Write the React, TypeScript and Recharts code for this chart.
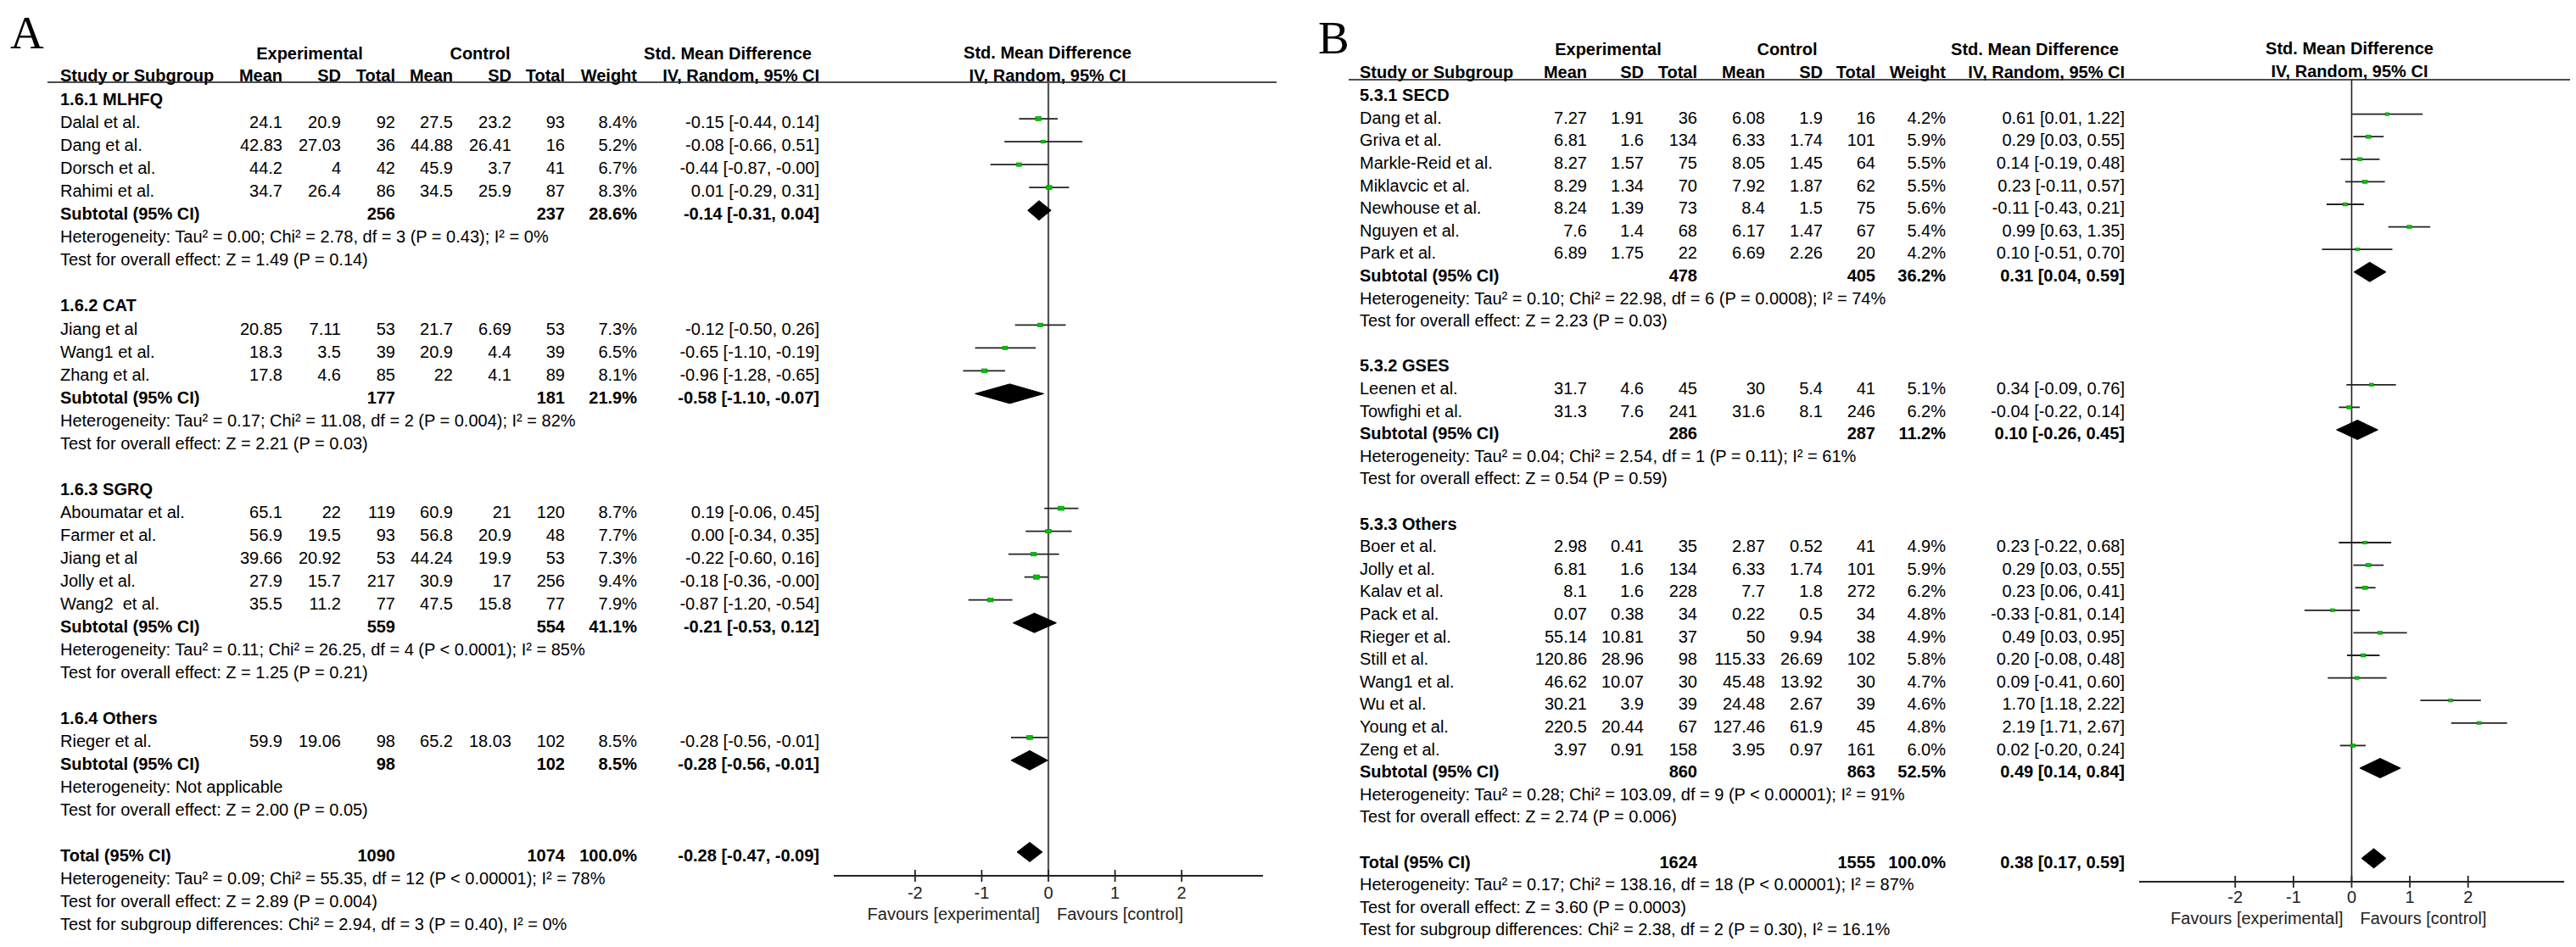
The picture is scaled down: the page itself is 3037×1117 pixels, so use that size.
import React from 'react';
import { ComposedChart, Scatter, ErrorBar, XAxis, YAxis, ReferenceLine } from 'recharts';

const SANS = "'Liberation Sans', Arial, Helvetica, sans-serif";
const SERIF = "'Liberation Serif', 'Times New Roman', serif";
const TICKS = [-2, -1, 0, 1, 2];

// ---------- Panel A ----------
const A_GROUPS = ['1.6.1 MLHFQ', '1.6.2 CAT', '1.6.3 SGRQ', '1.6.4 Others'];
const A_GROUP_SIZE = [4, 3, 5, 1];
const A_STUDIES = ['Dalal et al.', 'Dang et al.', 'Dorsch et al.', 'Rahimi et al.', 'Jiang et al', 'Wang1 et al.', 'Zhang et al.',
  'Aboumatar et al.', 'Farmer et al.', 'Jiang et al', 'Jolly et al.', 'Wang2  et al.', 'Rieger et al.'];
const A_EXP_MEAN = [24.1, 42.83, 44.2, 34.7, 20.85, 18.3, 17.8, 65.1, 56.9, 39.66, 27.9, 35.5, 59.9];
const A_EXP_SD = [20.9, 27.03, 4, 26.4, 7.11, 3.5, 4.6, 22, 19.5, 20.92, 15.7, 11.2, 19.06];
const A_EXP_N = [92, 36, 42, 86, 53, 39, 85, 119, 93, 53, 217, 77, 98];
const A_CTL_MEAN = [27.5, 44.88, 45.9, 34.5, 21.7, 20.9, 22, 60.9, 56.8, 44.24, 30.9, 47.5, 65.2];
const A_CTL_SD = [23.2, 26.41, 3.7, 25.9, 6.69, 4.4, 4.1, 21, 20.9, 19.9, 17, 15.8, 18.03];
const A_CTL_N = [93, 16, 41, 87, 53, 39, 89, 120, 48, 53, 256, 77, 102];
const A_WEIGHT = [8.4, 5.2, 6.7, 8.3, 7.3, 6.5, 8.1, 8.7, 7.7, 7.3, 9.4, 7.9, 8.5];
const A_SMD = [-0.15, -0.08, -0.44, 0.01, -0.12, -0.65, -0.96, 0.19, 0.0, -0.22, -0.18, -0.87, -0.28];
const A_LO = [-0.44, -0.66, -0.87, -0.29, -0.5, -1.1, -1.28, -0.06, -0.34, -0.6, -0.36, -1.2, -0.56];
const A_HI = [0.14, 0.51, -0.004, 0.31, 0.26, -0.19, -0.65, 0.45, 0.35, 0.16, -0.004, -0.54, -0.01];
const A_SUB_EXP_N = [256, 177, 559, 98];
const A_SUB_CTL_N = [237, 181, 554, 102];
const A_SUB_WEIGHT = [28.6, 21.9, 41.1, 8.5];
const A_SUB_SMD = [-0.14, -0.58, -0.21, -0.28];
const A_SUB_LO = [-0.31, -1.1, -0.53, -0.56];
const A_SUB_HI = [0.04, -0.07, 0.12, -0.01];
const A_HET = [
  'Heterogeneity: Tau² = 0.00; Chi² = 2.78, df = 3 (P = 0.43); I² = 0%',
  'Heterogeneity: Tau² = 0.17; Chi² = 11.08, df = 2 (P = 0.004); I² = 82%',
  'Heterogeneity: Tau² = 0.11; Chi² = 26.25, df = 4 (P < 0.0001); I² = 85%',
  'Heterogeneity: Not applicable',
];
const A_Z = [
  'Test for overall effect: Z = 1.49 (P = 0.14)',
  'Test for overall effect: Z = 2.21 (P = 0.03)',
  'Test for overall effect: Z = 1.25 (P = 0.21)',
  'Test for overall effect: Z = 2.00 (P = 0.05)',
];
const A_TOTAL_N = [1090, 1074];
const A_TOTAL_CI = [-0.28, -0.47, -0.09];
const A_TOTAL_NOTES = [
  'Heterogeneity: Tau² = 0.09; Chi² = 55.35, df = 12 (P < 0.00001); I² = 78%',
  'Test for overall effect: Z = 2.89 (P = 0.004)',
  'Test for subgroup differences: Chi² = 2.94, df = 3 (P = 0.40), I² = 0%',
];

// ---------- Panel B ----------
const B_GROUPS = ['5.3.1 SECD', '5.3.2 GSES', '5.3.3 Others'];
const B_GROUP_SIZE = [7, 2, 10];
const B_STUDIES = ['Dang et al.', 'Griva et al.', 'Markle-Reid et al.', 'Miklavcic et al.', 'Newhouse et al.', 'Nguyen et al.', 'Park et al.',
  'Leenen et al.', 'Towfighi et al.', 'Boer et al.', 'Jolly et al.', 'Kalav et al.', 'Pack et al.', 'Rieger et al.', 'Still et al.',
  'Wang1 et al.', 'Wu et al.', 'Young et al.', 'Zeng et al.'];
const B_EXP_MEAN = [7.27, 6.81, 8.27, 8.29, 8.24, 7.6, 6.89, 31.7, 31.3, 2.98, 6.81, 8.1, 0.07, 55.14, 120.86, 46.62, 30.21, 220.5, 3.97];
const B_EXP_SD = [1.91, 1.6, 1.57, 1.34, 1.39, 1.4, 1.75, 4.6, 7.6, 0.41, 1.6, 1.6, 0.38, 10.81, 28.96, 10.07, 3.9, 20.44, 0.91];
const B_EXP_N = [36, 134, 75, 70, 73, 68, 22, 45, 241, 35, 134, 228, 34, 37, 98, 30, 39, 67, 158];
const B_CTL_MEAN = [6.08, 6.33, 8.05, 7.92, 8.4, 6.17, 6.69, 30, 31.6, 2.87, 6.33, 7.7, 0.22, 50, 115.33, 45.48, 24.48, 127.46, 3.95];
const B_CTL_SD = [1.9, 1.74, 1.45, 1.87, 1.5, 1.47, 2.26, 5.4, 8.1, 0.52, 1.74, 1.8, 0.5, 9.94, 26.69, 13.92, 2.67, 61.9, 0.97];
const B_CTL_N = [16, 101, 64, 62, 75, 67, 20, 41, 246, 41, 101, 272, 34, 38, 102, 30, 39, 45, 161];
const B_WEIGHT = [4.2, 5.9, 5.5, 5.5, 5.6, 5.4, 4.2, 5.1, 6.2, 4.9, 5.9, 6.2, 4.8, 4.9, 5.8, 4.7, 4.6, 4.8, 6.0];
const B_SMD = [0.61, 0.29, 0.14, 0.23, -0.11, 0.99, 0.1, 0.34, -0.04, 0.23, 0.29, 0.23, -0.33, 0.49, 0.2, 0.09, 1.7, 2.19, 0.02];
const B_LO = [0.01, 0.03, -0.19, -0.11, -0.43, 0.63, -0.51, -0.09, -0.22, -0.22, 0.03, 0.06, -0.81, 0.03, -0.08, -0.41, 1.18, 1.71, -0.2];
const B_HI = [1.22, 0.55, 0.48, 0.57, 0.21, 1.35, 0.7, 0.76, 0.14, 0.68, 0.55, 0.41, 0.14, 0.95, 0.48, 0.6, 2.22, 2.67, 0.24];
const B_SUB_EXP_N = [478, 286, 860];
const B_SUB_CTL_N = [405, 287, 863];
const B_SUB_WEIGHT = [36.2, 11.2, 52.5];
const B_SUB_SMD = [0.31, 0.1, 0.49];
const B_SUB_LO = [0.04, -0.26, 0.14];
const B_SUB_HI = [0.59, 0.45, 0.84];
const B_HET = [
  'Heterogeneity: Tau² = 0.10; Chi² = 22.98, df = 6 (P = 0.0008); I² = 74%',
  'Heterogeneity: Tau² = 0.04; Chi² = 2.54, df = 1 (P = 0.11); I² = 61%',
  'Heterogeneity: Tau² = 0.28; Chi² = 103.09, df = 9 (P < 0.00001); I² = 91%',
];
const B_Z = [
  'Test for overall effect: Z = 2.23 (P = 0.03)',
  'Test for overall effect: Z = 0.54 (P = 0.59)',
  'Test for overall effect: Z = 2.74 (P = 0.006)',
];
const B_TOTAL_N = [1624, 1555];
const B_TOTAL_CI = [0.38, 0.17, 0.59];
const B_TOTAL_NOTES = [
  'Heterogeneity: Tau² = 0.17; Chi² = 138.16, df = 18 (P < 0.00001); I² = 87%',
  'Test for overall effect: Z = 3.60 (P = 0.0003)',
  'Test for subgroup differences: Chi² = 2.38, df = 2 (P = 0.30), I² = 16.1%',
];

const PANEL_A = {
  groups: A_GROUPS, groupSize: A_GROUP_SIZE, studies: A_STUDIES,
  expMean: A_EXP_MEAN, expSd: A_EXP_SD, expN: A_EXP_N, ctlMean: A_CTL_MEAN, ctlSd: A_CTL_SD, ctlN: A_CTL_N,
  weight: A_WEIGHT, smd: A_SMD, lo: A_LO, hi: A_HI,
  subExpN: A_SUB_EXP_N, subCtlN: A_SUB_CTL_N, subWeight: A_SUB_WEIGHT, subSmd: A_SUB_SMD, subLo: A_SUB_LO, subHi: A_SUB_HI,
  het: A_HET, z: A_Z, totalN: A_TOTAL_N, totalCi: A_TOTAL_CI, totalNotes: A_TOTAL_NOTES,
};
const PANEL_B = {
  groups: B_GROUPS, groupSize: B_GROUP_SIZE, studies: B_STUDIES,
  expMean: B_EXP_MEAN, expSd: B_EXP_SD, expN: B_EXP_N, ctlMean: B_CTL_MEAN, ctlSd: B_CTL_SD, ctlN: B_CTL_N,
  weight: B_WEIGHT, smd: B_SMD, lo: B_LO, hi: B_HI,
  subExpN: B_SUB_EXP_N, subCtlN: B_SUB_CTL_N, subWeight: B_SUB_WEIGHT, subSmd: B_SUB_SMD, subLo: B_SUB_LO, subHi: B_SUB_HI,
  het: B_HET, z: B_Z, totalN: B_TOTAL_N, totalCi: B_TOTAL_CI, totalNotes: B_TOTAL_NOTES,
};

// layout (pixels)
const LAYOUT_A = {
  letter: 'A', letterX: 12, letterY: 57,
  ruleX1: 56, ruleX2: 1505, ruleY: 97, head1Y: 63, head2Y: 89,
  textY0: 117, pitch: 27.03, markDy: -4, labelX: 71,
  cols: [333, 402, 466, 534, 603, 666, 751, 966],
  expCenter: 365, ctlCenter: 566, smdCenter: 858,
  plotLeft: 983, plotRight: 1489, plotTop: 97, plotBottom: 1033, half: 3.22,
  headX: 1235, fHead1Y: 62, fHead2Y: 89,
  zeroStroke: '#555', zeroWidth: 2.2, tickDy: 27, favDy: 52,
};
const LAYOUT_B = {
  letter: 'B', letterX: 1554, letterY: 63,
  ruleX1: 1590, ruleX2: 3030, ruleY: 94, head1Y: 58, head2Y: 85,
  textY0: 112, pitch: 26.6, markDy: -4, labelX: 1603,
  cols: [1871, 1938, 2001, 2081, 2149, 2211, 2294, 2505],
  expCenter: 1896, ctlCenter: 2107, smdCenter: 2399,
  plotLeft: 2522, plotRight: 3023, plotTop: 94, plotBottom: 1040, half: 3.65,
  headX: 2770, fHead1Y: 57, fHead2Y: 84,
  zeroStroke: '#222', zeroWidth: 1.6, tickDy: 25, favDy: 50,
};

const f2 = (n: number) => n.toFixed(2);
const ciText = (e: number, l: number, h: number) => `${f2(e)} [${f2(l)}, ${f2(h)}]`;
const pct = (n: number) => `${n.toFixed(1)}%`;

function buildRows(P: any) {
  const rows: any[] = [];
  let s = 0;
  P.groups.forEach((g: string, gi: number) => {
    rows.push({ kind: 'group', label: g });
    for (let k = 0; k < P.groupSize[gi]; k++) rows.push({ kind: 'study', i: s++ });
    rows.push({ kind: 'sub', g: gi });
    rows.push({ kind: 'note', text: P.het[gi] });
    rows.push({ kind: 'note', text: P.z[gi] });
    rows.push({ kind: 'blank' });
  });
  rows.push({ kind: 'total' });
  P.totalNotes.forEach((t: string) => rows.push({ kind: 'note', text: t }));
  return rows;
}

function T({ x, y, anchor = 'start', bold = false, size = 20, children }: any) {
  return (
    <text x={x} y={y} dy="0.36em" textAnchor={anchor} fontWeight={bold ? 700 : 400} fontSize={size}
      fontFamily={SANS} fill="#000" style={{ whiteSpace: 'pre' }}>{children}</text>
  );
}

function TableText({ P, L, rows }: any) {
  const c = L.cols;
  const out: any[] = [];
  rows.forEach((r: any, idx: number) => {
    const y = L.textY0 + idx * L.pitch;
    const k = `r${idx}`;
    if (r.kind === 'group') out.push(<T key={k} x={L.labelX} y={y} bold>{r.label}</T>);
    else if (r.kind === 'note') out.push(<T key={k} x={L.labelX} y={y}>{r.text}</T>);
    else if (r.kind === 'study') {
      const i = r.i;
      const vals = [P.expMean[i], P.expSd[i], P.expN[i], P.ctlMean[i], P.ctlSd[i], P.ctlN[i]];
      out.push(<T key={k + 'l'} x={L.labelX} y={y}>{P.studies[i]}</T>);
      vals.forEach((v, j) => out.push(<T key={k + 'v' + j} x={c[j]} y={y} anchor="end">{String(v)}</T>));
      out.push(<T key={k + 'w'} x={c[6]} y={y} anchor="end">{pct(P.weight[i])}</T>);
      out.push(<T key={k + 'c'} x={c[7]} y={y} anchor="end">{ciText(P.smd[i], P.lo[i], P.hi[i])}</T>);
    } else if (r.kind === 'sub' || r.kind === 'total') {
      const isSub = r.kind === 'sub';
      const g = r.g;
      out.push(<T key={k + 'l'} x={L.labelX} y={y} bold>{isSub ? 'Subtotal (95% CI)' : 'Total (95% CI)'}</T>);
      out.push(<T key={k + 'a'} x={c[2]} y={y} anchor="end" bold>{String(isSub ? P.subExpN[g] : P.totalN[0])}</T>);
      out.push(<T key={k + 'b'} x={c[5]} y={y} anchor="end" bold>{String(isSub ? P.subCtlN[g] : P.totalN[1])}</T>);
      out.push(<T key={k + 'w'} x={c[6]} y={y} anchor="end" bold>{pct(isSub ? P.subWeight[g] : 100)}</T>);
      out.push(<T key={k + 'c'} x={c[7]} y={y} anchor="end" bold>
        {isSub ? ciText(P.subSmd[g], P.subLo[g], P.subHi[g]) : ciText(P.totalCi[0], P.totalCi[1], P.totalCi[2])}</T>);
    }
  });
  return (
    <svg width={3037} height={1117} style={{ position: 'absolute', left: 0, top: 0, pointerEvents: 'none' }}>
      <text x={L.letterX} y={L.letterY} fontFamily={SERIF} fontSize={55} fill="#000">{L.letter}</text>
      <T x={L.expCenter} y={L.head1Y} anchor="middle" bold>Experimental</T>
      <T x={L.ctlCenter} y={L.head1Y} anchor="middle" bold>Control</T>
      <T x={L.smdCenter} y={L.head1Y} anchor="middle" bold>Std. Mean Difference</T>
      <T x={L.labelX} y={L.head2Y} bold>Study or Subgroup</T>
      {['Mean', 'SD', 'Total', 'Mean', 'SD', 'Total', 'Weight', 'IV, Random, 95% CI'].map((h, j) => (
        <T key={'h' + j} x={c[j]} y={L.head2Y} anchor="end" bold>{h}</T>
      ))}
      <T x={L.headX} y={L.fHead1Y} anchor="middle" bold>Std. Mean Difference</T>
      <T x={L.headX} y={L.fHead2Y} anchor="middle" bold>IV, Random, 95% CI</T>
      <line x1={L.ruleX1} x2={L.ruleX2} y1={L.ruleY} y2={L.ruleY} stroke="#111" strokeWidth={1.6} />
      {out}
    </svg>
  );
}

const makeTick = (L: any) => (props: any) => {
  const { x, y, payload } = props;
  return (
    <g>
      <line x1={x} x2={x} y1={y - 7} y2={y + 7} stroke="#222" strokeWidth={1.8} />
      <text x={x} y={y + L.tickDy} textAnchor="middle" fontSize={20} fontFamily={SANS} fill="#222">{payload.value}</text>
      {payload.value === 0 && (
        <>
          <text x={x - 10} y={y + L.favDy} textAnchor="end" fontSize={20} fontFamily={SANS} fill="#222">Favours [experimental]</text>
          <text x={x + 10} y={y + L.favDy} textAnchor="start" fontSize={20} fontFamily={SANS} fill="#222">Favours [control]</text>
        </>
      )}
    </g>
  );
};

const renderSquare = (props: any) => {
  const { cx, cy, payload } = props;
  const w = 2.5 + 0.5 * payload.w;
  const h = 0.72 * w;
  return <rect x={cx - w / 2} y={cy - h / 2} width={w} height={h} fill="#00c400" stroke="#008c00" strokeWidth={0.6} />;
};
const noShape = () => <g />;

function ForestChart({ P, L, rows }: any) {
  const width = L.plotRight - L.plotLeft;
  const plotH = L.plotBottom - L.plotTop;
  const axisH = 80;
  const markY0 = L.textY0 + L.markDy;
  const yDomain = [(L.plotTop - markY0) / L.pitch, (L.plotBottom - markY0) / L.pitch];
  const hh = 11.5 / L.pitch;

  const studyPts: any[] = [];
  const diamonds: any[] = [];
  const diamond = (e: number, l: number, h: number, r: number) => [
    { x: l, y: r }, { x: e, y: r - hh }, { x: h, y: r }, { x: e, y: r + hh }, { x: l, y: r },
  ];
  rows.forEach((r: any, idx: number) => {
    if (r.kind === 'study') {
      const i = r.i;
      studyPts.push({ x: P.smd[i], y: idx, err: [P.smd[i] - P.lo[i], P.hi[i] - P.smd[i]], w: P.weight[i] });
    } else if (r.kind === 'sub') {
      diamonds.push(diamond(P.subSmd[r.g], P.subLo[r.g], P.subHi[r.g], idx));
    } else if (r.kind === 'total') {
      diamonds.push(diamond(P.totalCi[0], P.totalCi[1], P.totalCi[2], idx));
    }
  });

  return (
    <div style={{ position: 'absolute', left: L.plotLeft, top: L.plotTop }}>
      <ComposedChart width={width} height={plotH + axisH} margin={{ top: 0, right: 0, bottom: 0, left: 0 }} style={{ overflow: 'visible' }}>
        <XAxis type="number" dataKey="x" domain={[-L.half, L.half]} allowDataOverflow ticks={TICKS} interval={0}
          height={axisH} axisLine={{ stroke: '#222', strokeWidth: 1.8 }} tickLine={false} tickSize={0} tickMargin={0}
          tick={makeTick(L)} />
        <YAxis type="number" dataKey="y" domain={yDomain} allowDataOverflow reversed hide />
        <ReferenceLine x={0} stroke={L.zeroStroke} strokeWidth={L.zeroWidth} />
        {diamonds.map((d, i) => (
          <Scatter key={'d' + i} data={d} shape={noShape} line={{ fill: '#000', stroke: '#000', strokeWidth: 1 }}
            lineJointType="linear" isAnimationActive={false} />
        ))}
        <Scatter data={studyPts} shape={renderSquare} isAnimationActive={false}>
          <ErrorBar dataKey="err" direction="x" width={0} stroke="#222" strokeWidth={1.8} />
        </Scatter>
      </ComposedChart>
    </div>
  );
}

function Panel({ P, L }: any) {
  const rows = buildRows(P);
  return (
    <>
      <TableText P={P} L={L} rows={rows} />
      <ForestChart P={P} L={L} rows={rows} />
    </>
  );
}

export default function App() {
  return (
    <div style={{ position: 'absolute', left: 0, top: 0, width: 3037, height: 1117, background: '#fff', overflow: 'hidden' }}>
      <Panel P={PANEL_A} L={LAYOUT_A} />
      <Panel P={PANEL_B} L={LAYOUT_B} />
    </div>
  );
}
